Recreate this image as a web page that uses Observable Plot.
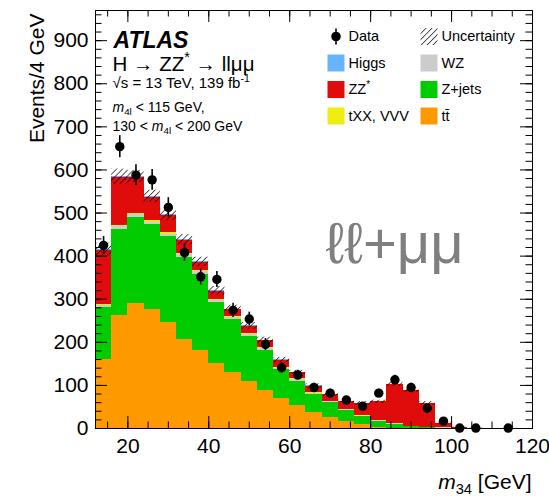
<!DOCTYPE html>
<html>
<head>
<meta charset="utf-8">
<script src="https://cdn.jsdelivr.net/npm/d3@7"></script>
<script src="https://cdn.jsdelivr.net/npm/@observablehq/plot@0.6"></script>
<style>
  html, body { margin: 0; padding: 0; background: #fff; }
</style>
</head>
<body>
<div id="chart"></div>
<script>
// m34 bins (lower edges, GeV); every bin is 4 GeV wide
const binLow = [12, 16, 20, 24, 28, 32, 36, 40, 44, 48, 52, 56, 60, 64, 68, 72, 76, 80, 84, 88, 92, 96, 100, 104, 108, 112, 116];
const binWidth = 4;

// expected events per bin, by process (stacked bottom to top in this order)
const ttbar  = [160, 263, 290, 275, 247, 206, 180, 150, 130, 110, 89, 70, 54, 38, 25, 17, 10, 3, 1, 0.5, 0.3, 0.1, 0, 0, 0, 0, 0];
const zjets  = [120, 199, 200, 198, 198, 191, 178, 142, 122, 103, 93, 66, 56, 41, 35, 25, 17, 14, 9, 3.5, 1.7, 0.9, 0.3, 0.1, 0, 0, 0];
const wz     = [5, 6, 6, 6, 6, 6, 6, 5, 5, 5, 4, 4, 3, 3, 2, 2, 2, 1.5, 1.5, 1, 0.8, 0.3, 0.1, 0.1, 0, 0, 0];
const txxVvv = [2, 3, 3, 3, 3, 3, 3, 3, 3, 3, 3, 2, 2, 2, 1.5, 1, 1, 1, 1, 0.8, 0.5, 0.2, 0, 0, 0, 0, 0];
const zzStar = [127, 111, 84, 55, 40, 30, 18, 18, 16, 16, 15, 16, 14, 14, 15, 18, 28, 42, 90, 83, 55, 11, 1.6, 0.8, 0.5, 0.3, 0.2];
const higgs  = [1, 2, 2, 2, 2, 2, 1.5, 1.5, 1, 1, 1, 1, 1, 0.8, 0.5, 0.5, 0.4, 0.3, 0.3, 0.2, 0.2, 0.1, 0, 0, 0, 0, 0];
// total uncertainty on the expectation
const uncertainty = [15, 18, 14, 14, 13, 12, 11, 10, 9, 8, 7, 6, 5, 5, 4, 4, 4, 4, 5, 5, 4, 2, 1, 0.5, 0.3, 0.2, 0.1];
// observed events
const observed = [425, 654, 588, 577, 513, 408, 352, 346, 274, 254, 195, 141, 124, 95, 82, 66, 52, 82, 113, 95, 47, 17, 1, 1, 0, 1, 0];

// tick positions
const xMajorTicks = [20, 40, 60, 80, 100, 120];
const xMinorTicks = d3.range(15, 120, 5);
const yMajorTicks = [0, 100, 200, 300, 400, 500, 600, 700, 800, 900];
const yMinorTicks = d3.range(0, 970, 20);

const processes = [
  {name: "tt\u0304", values: ttbar, color: "#ff9900"},
  {name: "Z+jets", values: zjets, color: "#00cc00"},
  {name: "WZ", values: wz, color: "#cccccc"},
  {name: "tXX, VVV", values: txxVvv, color: "#eeee11"},
  {name: "ZZ*", values: zzStar, color: "#e00b0b"},
  {name: "Higgs", values: higgs, color: "#66b3ff"}
];

// stacked histogram segments
const segments = [];
const bins = binLow.map((lo, i) => {
  let base = 0;
  for (const p of processes) {
    const v = p.values[i];
    if (v > 0) segments.push({lo, hi: lo + binWidth, y1: base, y2: base + v, process: p.name});
    base += v;
  }
  return {lo, hi: lo + binWidth, total: base, unc: uncertainty[i]};
});
const dataPoints = binLow
  .map((lo, i) => ({x: lo + binWidth / 2, n: observed[i]}))
  .filter(d => d.n > 0);

// layout
const W = 549, H = 497;
const mL = 95, mR = 17, mT = 10, mB = 69;
const frameW = W - mL - mR, frameH = H - mT - mB;
const major = 12, minor = 6.5;
const font = "'Liberation Sans', Arial, Helvetica, sans-serif";

// text placed relative to the frame's top-left corner (pixel offsets)
function label(text, x, y, opts = {}) {
  return Plot.text([text], {
    text: d => d, frameAnchor: "top-left", dx: x - mL, dy: y - mT,
    textAnchor: "start", lineAnchor: "bottom", fill: "black", ...opts
  });
}

// legend
const legendCols = [335.5, 428.5];
const legendRows = [36, 62.5, 89, 115.5];
const legendItems = [
  {label: "Data", kind: "data", col: 0, row: 0},
  {label: "Uncertainty", kind: "hatch", col: 1, row: 0},
  {label: "Higgs", col: 0, row: 1},
  {label: "WZ", col: 1, row: 1},
  {label: "ZZ*", col: 0, row: 2},
  {label: "Z+jets", col: 1, row: 2},
  {label: "tXX, VVV", col: 0, row: 3},
  {label: "tt\u0304", col: 1, row: 3}
];
const colorOf = Object.fromEntries(processes.map(p => [p.name, p.color]));
const dataSymbol = {
  draw(ctx, size) {
    const r = Math.sqrt(size / Math.PI);
    ctx.moveTo(r, 0);
    ctx.arc(0, 0, r, 0, 2 * Math.PI);
    ctx.moveTo(0, -8);
    ctx.lineTo(0, 8);
  }
};
const legendMarks = legendItems.flatMap(item => {
  const cx = legendCols[item.col], cy = legendRows[item.row];
  const pos = {frameAnchor: "top-left", dx: cx - mL, dy: cy - mT};
  let swatch;
  if (item.kind === "data") {
    swatch = Plot.dot([0], {...pos, symbol: dataSymbol, r: 4, fill: "black", stroke: "black", strokeWidth: 1.6});
  } else if (item.kind === "hatch") {
    swatch = Plot.dot([0], {...pos, symbol: "square", r: 17 / Math.sqrt(Math.PI), fill: "url(#hatch)"});
  } else {
    swatch = Plot.dot([0], {...pos, symbol: "square", r: 17 / Math.sqrt(Math.PI), fill: colorOf[item.label]});
  }
  const text = Plot.text([item.label], {
    text: d => d, frameAnchor: "top-left", dx: cx + 12.5 - mL, dy: cy - mT,
    textAnchor: "start", lineAnchor: "middle", fontSize: 14.5, fill: "black"
  });
  return [swatch, text];
});

const chart = Plot.plot({
  width: W, height: H,
  marginLeft: mL, marginRight: mR, marginTop: mT, marginBottom: mB,
  style: {fontFamily: font, fontSize: "21px", color: "black", background: "white"},
  x: {domain: [12, 120]},
  y: {domain: [0, 970]},
  color: {domain: processes.map(p => p.name), range: processes.map(p => p.color)},
  marks: [
    // stacked expectation
    Plot.rect(segments, {x1: "lo", x2: "hi", y1: "y1", y2: "y2", fill: "process", shapeRendering: "crispEdges"}),
    // uncertainty band
    Plot.rect(bins.filter(b => b.total > 0.5), {
      x1: "lo", x2: "hi", y1: d => d.total - d.unc, y2: d => d.total + d.unc, fill: "url(#hatch)"
    }),
    // data with Poisson errors
    Plot.ruleX(dataPoints, {x: "x", y1: d => d.n - Math.sqrt(d.n), y2: d => d.n + Math.sqrt(d.n), stroke: "black", strokeWidth: 1.6}),
    Plot.dot(dataPoints, {x: "x", y: "n", r: 4.7, fill: "black"}),
    Plot.frame({stroke: "black", strokeWidth: 1}),
    // inward ticks on all four sides
    Plot.tickY(yMajorTicks, {y: d => d, insetRight: frameW - major, stroke: "black"}),
    Plot.tickY(yMinorTicks, {y: d => d, insetRight: frameW - minor, stroke: "black"}),
    Plot.tickY(yMajorTicks, {y: d => d, insetLeft: frameW - major, stroke: "black"}),
    Plot.tickY(yMinorTicks, {y: d => d, insetLeft: frameW - minor, stroke: "black"}),
    Plot.tickX(xMajorTicks, {x: d => d, insetTop: frameH - major, stroke: "black"}),
    Plot.tickX(xMinorTicks, {x: d => d, insetTop: frameH - minor, stroke: "black"}),
    Plot.tickX(xMajorTicks, {x: d => d, insetBottom: frameH - major, stroke: "black"}),
    Plot.tickX(xMinorTicks, {x: d => d, insetBottom: frameH - minor, stroke: "black"}),
    // tick labels
    Plot.axisY({ticks: yMajorTicks, tickSize: 0, tickPadding: 7, label: null}),
    Plot.axisX({ticks: xMajorTicks, tickSize: 0, tickPadding: 10, label: null}),
    // axis titles
    Plot.text(["Events/4 GeV"], {text: d => d, frameAnchor: "top-left", dx: 43 - mL, dy: 13 - mT, rotate: -90, textAnchor: "end", lineAnchor: "bottom", fontSize: 21, fill: "black"}),
    Plot.text(["m34 [GeV]"], {text: d => d, frameAnchor: "bottom-right", dx: -1, dy: 488 - (H - mB), textAnchor: "end", lineAnchor: "bottom", fontSize: 21, fill: "black"}),
    // annotations
    label("ATLAS", 113, 47.5, {fontSize: 23, fontWeight: "bold", fontStyle: "italic"}),
    label("H → ZZ* → llμμ", 112, 70, {fontSize: 20.5}),
    label("√s = 13 TeV, 139 fb-1", 112, 87.5, {fontSize: 15}),
    label("m4l < 115 GeV,", 112, 111, {fontSize: 14}),
    label("130 < m4l < 200 GeV", 112, 130, {fontSize: 14}),
    label("ℓℓ+μμ", 325, 262, {fontSize: 58, fill: "#7f7f7f"}),
    ...legendMarks
  ]
});

// hatch pattern for the uncertainty band
d3.select(chart).insert("defs", ":first-child").html(
  '<pattern id="hatch" patternUnits="userSpaceOnUse" width="4.2" height="4.2" patternTransform="rotate(45)">' +
  '<line x1="0" y1="0" x2="0" y2="4.2" stroke="black" stroke-width="1.3"/></pattern>'
);

// sub- and superscripts, italics
const rich = new Map([
  ["m34 [GeV]", [["m", "i"], ["34", "sub"], [" [GeV]"]]],
  ["m4l < 115 GeV,", [["m", "i"], ["4l", "sub"], [" < 115 GeV,"]]],
  ["130 < m4l < 200 GeV", [["130 < "], ["m", "i"], ["4l", "sub"], [" < 200 GeV"]]],
  ["√s = 13 TeV, 139 fb-1", [["√s = 13 TeV, 139 fb"], ["-1", "sup"]]],
  ["H → ZZ* → llμμ", [["H → ZZ"], ["*", "sup"], [" → llμμ"]]],
  ["ZZ*", [["ZZ"], ["*", "sup"]]]
]);
document.getElementById("chart").append(chart);
d3.select(chart).selectAll("text").each(function() {
  const parts = rich.get(this.textContent);
  if (!parts) return;
  const fs = parseFloat(getComputedStyle(this).fontSize);
  this.textContent = "";
  let shift = 0;
  for (const [t, kind] of parts) {
    const target = kind === "sub" ? 0.25 * fs : kind === "sup" ? -0.4 * fs : 0;
    const ts = d3.select(this).append("tspan").text(t).attr("dy", target - shift);
    if (kind === "sub" || kind === "sup") ts.attr("font-size", 0.7 * fs);
    if (kind === "i") ts.attr("font-style", "italic");
    shift = target;
  }
});
</script>
</body>
</html>
